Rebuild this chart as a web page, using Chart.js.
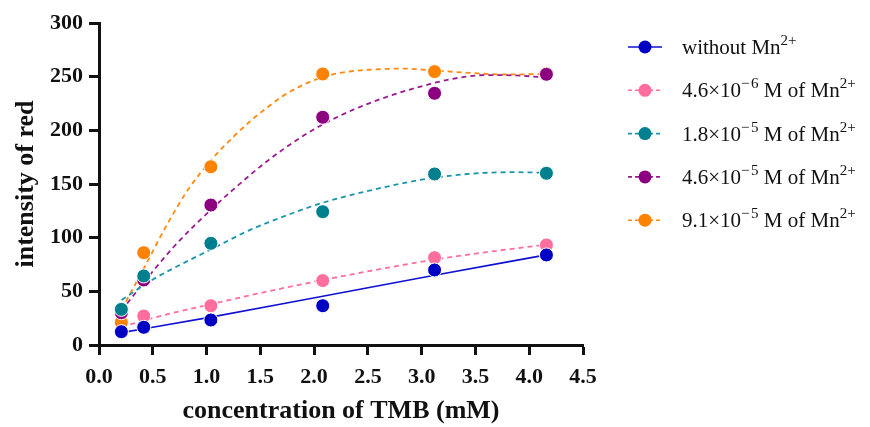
<!DOCTYPE html>
<html><head><meta charset="utf-8">
<script src="https://cdn.jsdelivr.net/npm/chart.js@4"></script>
<style>html,body{margin:0;padding:0;background:#fff}#wrap{width:870px;height:427px}</style>
</head><body><div id="wrap"><canvas id="c" width="870" height="427"></canvas></div>
<script>
// ---- data ----
const tmbConc = [0.208, 0.416, 1.04, 2.08, 3.12, 4.16];
const withoutMn = [12.4, 16.5, 23.3, 36.6, 69.9, 83.9];
const mn46e6 = [12, 27, 36.6, 60, 81.4, 93.2];
const mn18e5 = [33.2, 64.3, 94.7, 124.2, 159.3, 160];
const mn46e5 = [30, 60.6, 130.4, 212.2, 234.5, 252.2];
const mn91e5 = [21.1, 86, 166.1, 252.5, 254.7, 253];

// fitted curves
const fitWithoutX = [0.21, 1.04, 2.08, 3.12, 4.16];
const fitWithoutY = [11.5, 26, 45.5, 65, 84];
const fit46e6X = [0.21, 0.63, 1.04, 1.56, 2.08, 2.6, 3.12, 3.6, 4.16];
const fit46e6Y = [17, 28.5, 38, 49.7, 60.5, 70.5, 79.5, 86.5, 93.5];
const fit18e5X = [0.21, 0.5, 0.8, 1.04, 1.4, 1.75, 2.08, 2.5, 3.0, 3.45, 3.85, 4.16];
const fit18e5Y = [42, 61, 77, 89, 107, 121, 132.5, 143.5, 154, 159.5, 161, 160.5];
const fit46e5X = [0.21, 0.43, 0.7, 1.04, 1.25, 1.56, 1.87, 2.08, 2.36, 2.67, 2.98, 3.29, 3.6, 3.91, 4.16];
const fit46e5Y = [32, 60, 92, 126, 145, 171, 193, 205.5, 219, 231, 240.5, 248, 251.5, 251, 249];
const fit91e5X = [0.21, 0.42, 0.62, 0.83, 1.04, 1.25, 1.4, 1.56, 1.71, 1.87, 2.05, 2.24, 2.52, 2.83, 3.08, 3.45, 3.76, 4.16];
const fit91e5Y = [33, 72, 110, 145, 172, 194, 208, 221, 232, 241, 248.5, 253.5, 256.5, 257.5, 256, 253.5, 252, 252.5];

const xTicks = [0, 0.5, 1, 1.5, 2, 2.5, 3, 3.5, 4, 4.5];
const yTicks = [0, 50, 100, 150, 200, 250, 300];

const colors = ['#0000C4', '#FF6E9C', '#007F8F', '#8C0080', '#FF8200'];
const lineColors = ['#1010D0', '#FF6E9C', '#1A96A6', '#9A1A90', '#FF8A10'];
const legendParts = [
  [{t:'without Mn'},{t:'2+',sup:true}],
  [{t:'4.6×10'},{t:'−',sup:true,gap:1.5},{t:'6',sup:true},{t:' M of Mn'},{t:'2+',sup:true}],
  [{t:'1.8×10'},{t:'−',sup:true,gap:1.5},{t:'5',sup:true},{t:' M of Mn'},{t:'2+',sup:true}],
  [{t:'4.6×10'},{t:'−',sup:true,gap:1.5},{t:'5',sup:true},{t:' M of Mn'},{t:'2+',sup:true}],
  [{t:'9.1×10'},{t:'−',sup:true,gap:1.5},{t:'5',sup:true},{t:' M of Mn'},{t:'2+',sup:true}]
];

const pointSeries = [withoutMn, mn46e6, mn18e5, mn46e5, mn91e5];
const fitSeries = [[fitWithoutX, fitWithoutY],[fit46e6X, fit46e6Y],[fit18e5X, fit18e5Y],[fit46e5X, fit46e5Y],[fit91e5X, fit91e5Y]];

const pts = (xs, ys) => xs.map((x, i) => ({x, y: ys[i]}));
const datasets = [];
pointSeries.forEach((ys, i) => {
  datasets.push({
    type: 'scatter', data: pts(tmbConc, ys), order: 0,
    backgroundColor: colors[i], borderColor: '#ffffff', borderWidth: 1,
    pointRadius: 7, showLine: false
  });
});
fitSeries.forEach((f, i) => {
  datasets.push({
    type: 'scatter', data: pts(f[0], f[1]), order: 1, showLine: true,
    borderColor: lineColors[i], borderWidth: i === 0 ? 1.6 : 1.8,
    borderDash: i === 0 ? [] : [5, 4], pointRadius: 0,
    cubicInterpolationMode: 'monotone', fill: false
  });
});

const legendPlugin = {
  id: 'supLegend',
  afterDraw(chart) {
    const ctx = chart.ctx;
    legendParts.forEach((parts, i) => {
      const y = 47 + i * 43.3;
      ctx.save();
      ctx.strokeStyle = lineColors[i]; ctx.lineWidth = 1.6;
      ctx.setLineDash(i === 0 ? [] : [4, 3]);
      ctx.beginPath(); ctx.moveTo(628, y); ctx.lineTo(662, y); ctx.stroke();
      ctx.setLineDash([]);
      ctx.fillStyle = colors[i];
      ctx.beginPath(); ctx.arc(645, y, 6.5, 0, Math.PI * 2); ctx.fill();
      let x = 682;
      ctx.fillStyle = '#111'; ctx.textBaseline = 'alphabetic'; ctx.textAlign = 'left';
      parts.forEach(p => {
        ctx.font = p.sup ? '15px "Liberation Serif"' : '21px "Liberation Serif"';
        ctx.fillText(p.t, x, p.sup ? y - 2 : y + 7);
        x += ctx.measureText(p.t).width + (p.gap || 0);
      });
      ctx.restore();
    });
  }
};

const tickFont = {family: '"Liberation Serif"', size: 22, weight: 'bold'};
const titleFont = {family: '"Liberation Serif"', size: 26, weight: 'bold'};

new Chart(document.getElementById('c'), {
  type: 'scatter',
  data: {datasets},
  options: {
    responsive: false, animation: false, devicePixelRatio: 1,
    layout: {padding: {left: 0, top: 23, right: 287, bottom: 0}},
    plugins: {legend: {display: false}, tooltip: {enabled: false}},
    scales: {
      x: {
        type: 'linear', min: 0, max: 4.5,
        afterBuildTicks: s => { s.ticks = xTicks.map(v => ({value: v})); },
        afterFit: s => { s.height = 82; },
        ticks: {font: tickFont, color: '#111', padding: 9, callback: v => v.toFixed(1), maxRotation: 0},
        grid: {drawOnChartArea: false, drawTicks: true, tickLength: 10, tickWidth: 3, tickColor: '#111'},
        border: {display: true, width: 3, color: '#111'},
        title: {display: true, text: 'concentration of TMB (mM)', font: titleFont, color: '#111', padding: {top: 0, bottom: 0}}
      },
      y: {
        type: 'linear', min: 0, max: 300,
        afterBuildTicks: s => { s.ticks = yTicks.map(v => ({value: v})); },
        afterFit: s => { s.width = 99; },
        ticks: {font: tickFont, color: '#111', padding: 6},
        grid: {drawOnChartArea: false, drawTicks: true, tickLength: 10, tickWidth: 3, tickColor: '#111'},
        border: {display: true, width: 3, color: '#111'},
        title: {display: true, text: 'intensity of red', font: titleFont, color: '#111', padding: {top: 11, bottom: 0}}
      }
    }
  },
  plugins: [legendPlugin]
});
</script></body></html>
